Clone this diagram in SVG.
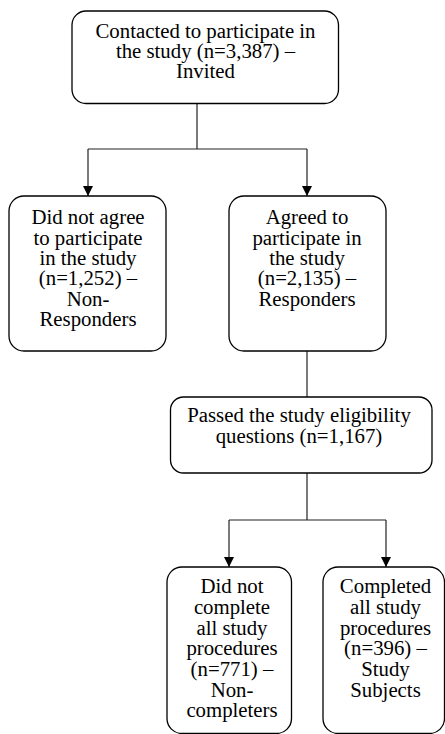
<svg xmlns="http://www.w3.org/2000/svg" width="445" height="734" viewBox="0 0 445 734">
<style>
.box{fill:#fff;stroke:#000;stroke-width:1.3}
.t{font-size:20.8px;fill:#000;text-anchor:middle}
.c{fill:none;stroke:#222;stroke-width:1.2}
</style>
<defs>
<marker id="ah" markerUnits="userSpaceOnUse" markerWidth="10" markerHeight="10" refX="10" refY="5" orient="auto">
<path d="M0,0 L10,5 L0,10 z" fill="#000"/>
</marker>
</defs>
<rect width="445" height="734" fill="#fff"/>
<g id="connectors">
<path class="c" d="M197 104 V149 M88 149 H307"/>
<path class="c" d="M88 149 V196" marker-end="url(#ah)"/>
<path class="c" d="M307 149 V196" marker-end="url(#ah)"/>
<path class="c" d="M307 351 V397"/>
<path class="c" d="M307 473 V520 M229 520 H386"/>
<path class="c" d="M229 520 V567" marker-end="url(#ah)"/>
<path class="c" d="M386 520 V567" marker-end="url(#ah)"/>
</g>
<g font-family="'Liberation Serif', 'Times New Roman', 'DejaVu Serif', serif">
<g id="invited">
<rect class="box" x="72" y="11" width="266.5" height="92.5" rx="14"/>
<text class="t" x="205.5" y="37.5">Contacted to participate in</text>
<text class="t" x="205.5" y="57.5">the study (n=3,387) –</text>
<text class="t" x="205.5" y="77.5">Invited</text>
</g>
<g id="nonresponders">
<rect class="box" x="9" y="196" width="157" height="155" rx="15"/>
<text class="t" x="88" y="224">Did not agree</text>
<text class="t" x="88" y="244.5">to participate</text>
<text class="t" x="88" y="264.5">in the study</text>
<text class="t" x="88" y="285">(n=1,252) –</text>
<text class="t" x="88" y="305.5">Non-</text>
<text class="t" x="88" y="325.5">Responders</text>
</g>
<g id="responders">
<rect class="box" x="229" y="196" width="157" height="155" rx="15"/>
<text class="t" x="307" y="224">Agreed to</text>
<text class="t" x="307" y="244.5">participate in</text>
<text class="t" x="307" y="264.5">the study</text>
<text class="t" x="307" y="285">(n=2,135) –</text>
<text class="t" x="307" y="305.5">Responders</text>
</g>
<g id="eligible">
<rect class="box" x="170.5" y="397" width="261.5" height="76" rx="13"/>
<text class="t" x="299" y="422">Passed the study eligibility</text>
<text class="t" x="299" y="443">questions (n=1,167)</text>
</g>
<g id="noncompleters">
<rect class="box" x="167" y="567" width="124.5" height="166.5" rx="15"/>
<text class="t" x="232" y="593">Did not</text>
<text class="t" x="232" y="613.5">complete</text>
<text class="t" x="232" y="634.5">all study</text>
<text class="t" x="232" y="655">procedures</text>
<text class="t" x="232" y="676">(n=771) –</text>
<text class="t" x="232" y="696.5">Non-</text>
<text class="t" x="232" y="717">completers</text>
</g>
<g id="subjects">
<rect class="box" x="323" y="567" width="121.5" height="166.5" rx="15"/>
<text class="t" x="385.5" y="593">Completed</text>
<text class="t" x="385.5" y="613.5">all study</text>
<text class="t" x="385.5" y="634.5">procedures</text>
<text class="t" x="385.5" y="655">(n=396) –</text>
<text class="t" x="385.5" y="676">Study</text>
<text class="t" x="385.5" y="696.5">Subjects</text>
</g>
</g>
</svg>
